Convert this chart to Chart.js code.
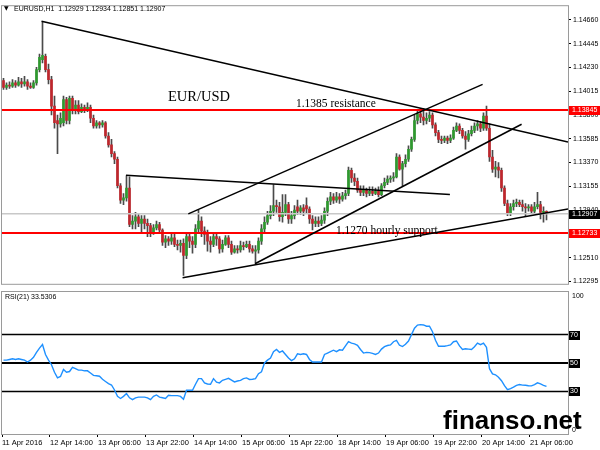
<!DOCTYPE html>
<html>
<head>
<meta charset="utf-8">
<script src="https://cdn.jsdelivr.net/npm/chart.js@4.4.0/dist/chart.umd.min.js"></script>
<style>
  html, body { margin: 0; padding: 0; background: #fff; }
  #wrap { position: relative; width: 600px; height: 450px; overflow: hidden; }
  #price { position: absolute; left: 0; top: 0; }
  #rsi { position: absolute; left: 0; top: 290px; }
  #mark { position: absolute; left: 443px; top: 407px; font: bold 26px "Liberation Sans", Arial, sans-serif; line-height: 26px; color: #000; }
</style>
</head>
<body>
<div id="wrap">
  <canvas id="price" width="600" height="290"></canvas>
  <canvas id="rsi" width="600" height="160"></canvas>
  <div id="mark">finanso.net</div>
</div>
<script>
// EURUSD H1, bars from 11 Apr 22:00 to 21 Apr 11:00
const opens = [
  1.1411,1.1405,1.1407,1.1406,1.1409,1.1407,1.1410,1.1408,1.1410,1.1406,
  1.1405,1.1409,1.1421,1.1430,1.1433,1.1421,1.1412,1.1388,1.1375,1.1372,
  1.1373,1.1394,1.1375,1.1395,1.1384,1.1389,1.1383,1.1387,1.1385,1.1387,
  1.1377,1.1370,1.1373,1.1371,1.1373,1.1361,1.1353,1.1345,1.1340,1.1316,
  1.1303,1.1305,1.1314,1.1281,1.1284,1.1288,1.1282,1.1286,1.1282,1.1280,
  1.1274,1.1278,1.1281,1.1276,1.1265,1.1268,1.1266,1.1269,1.1263,1.1262,
  1.1264,1.1253,1.1270,1.1266,1.1263,1.1277,1.1284,1.1275,1.1272,1.1266,
  1.1263,1.1270,1.1268,1.1259,1.1263,1.1269,1.1263,1.1256,1.1259,1.1258,
  1.1262,1.1261,1.1263,1.1259,1.1257,1.1258,1.1266,1.1277,1.1283,1.1289,
  1.1293,1.1298,1.1297,1.1288,1.1292,1.1299,1.1286,1.1289,1.1297,1.1293,
  1.1296,1.1298,1.1295,1.1286,1.1282,1.1284,1.1282,1.1285,1.1293,1.1302,
  1.1306,1.1303,1.1306,1.1304,1.1307,1.1309,1.1330,1.1323,1.1320,1.1312,
  1.1310,1.1312,1.1309,1.1311,1.1309,1.1311,1.1308,1.1316,1.1319,1.1322,
  1.1323,1.1324,1.1342,1.1331,1.1336,1.1340,1.1349,1.1358,1.1375,1.1381,
  1.1378,1.1375,1.1377,1.1380,1.1371,1.1364,1.1358,1.1357,1.1359,1.1357,
  1.1359,1.1366,1.1370,1.1366,1.1361,1.1358,1.1363,1.1366,1.1370,1.1372,
  1.1368,1.1379,1.1368,1.1342,1.1331,1.1333,1.1330,1.1314,1.1300,1.1291,
  1.1297,1.1300,1.1301,1.1299,1.1297,1.1296,1.1297,1.1293,1.1297,1.1299,
  1.1292,1.12929
];
const highs = [
  1.1413,1.1409,1.1410,1.1412,1.1411,1.1414,1.1413,1.1415,1.1412,1.1409,
  1.1411,1.1423,1.1435,1.1464,1.1435,1.1426,1.1415,1.1397,1.1380,1.1382,
  1.1397,1.1396,1.1397,1.1397,1.1393,1.1393,1.1390,1.1389,1.1391,1.1389,
  1.1380,1.1375,1.1374,1.1375,1.1374,1.1364,1.1358,1.1347,1.1342,1.1318,
  1.1309,1.1325,1.1324,1.1289,1.1292,1.1290,1.1289,1.1289,1.1286,1.1282,
  1.1281,1.1284,1.1283,1.1277,1.1271,1.1270,1.1272,1.1272,1.1267,1.1267,
  1.1268,1.1274,1.1274,1.1270,1.1281,1.1294,1.1288,1.1279,1.1276,1.1270,
  1.1274,1.1273,1.1270,1.1267,1.1271,1.1271,1.1266,1.1262,1.1262,1.1266,
  1.1265,1.1266,1.1266,1.1262,1.1262,1.1269,1.1281,1.1288,1.1293,1.1298,
  1.1317,1.1303,1.1301,1.1308,1.1308,1.1301,1.1293,1.1298,1.1303,1.1298,
  1.1299,1.1305,1.1297,1.1289,1.1288,1.1288,1.1289,1.1296,1.1305,1.1310,
  1.1309,1.1310,1.1309,1.1310,1.1312,1.1333,1.1332,1.1327,1.1323,1.1316,
  1.1316,1.1314,1.1315,1.1315,1.1314,1.1315,1.1318,1.1323,1.1325,1.1325,
  1.1328,1.1345,1.1344,1.1338,1.1344,1.1352,1.1360,1.1380,1.1384,1.1386,
  1.1386,1.1382,1.1383,1.1382,1.1373,1.1366,1.1361,1.1361,1.1361,1.1362,
  1.1369,1.1373,1.1372,1.1368,1.1365,1.1366,1.1370,1.1373,1.1375,1.1374,
  1.1382,1.1388,1.1372,1.1348,1.1338,1.1337,1.1332,1.1316,1.1303,1.1300,
  1.1303,1.1304,1.1303,1.1303,1.1300,1.1299,1.1299,1.1301,1.1310,1.1302,
  1.1297,1.12934
];
const lows = [
  1.1403,1.1403,1.1404,1.1405,1.1405,1.1406,1.1405,1.1406,1.1403,1.1404,
  1.1404,1.1407,1.1419,1.1427,1.1419,1.1408,1.1380,1.1368,1.1345,1.1369,
  1.1370,1.1372,1.1372,1.1381,1.1381,1.1381,1.1382,1.1382,1.1383,1.1373,
  1.1368,1.1368,1.1368,1.1369,1.1359,1.1351,1.1342,1.1336,1.1314,1.1300,
  1.1299,1.1302,1.1279,1.1277,1.1277,1.1279,1.1273,1.1277,1.1270,1.1270,
  1.1272,1.1276,1.1274,1.1262,1.1260,1.1262,1.1263,1.1261,1.1258,1.1256,
  1.1235,1.1250,1.1260,1.1255,1.1260,1.1274,1.1270,1.1263,1.1257,1.1256,
  1.1261,1.1262,1.1255,1.1256,1.1262,1.1260,1.1254,1.1255,1.1255,1.1256,
  1.1258,1.1260,1.1256,1.1255,1.1246,1.1255,1.1263,1.1274,1.1281,1.1286,
  1.1289,1.1292,1.1284,1.1283,1.1289,1.1282,1.1282,1.1286,1.1290,1.1290,
  1.1289,1.1291,1.1282,1.1276,1.1279,1.1279,1.1280,1.1282,1.1289,1.1299,
  1.1300,1.1301,1.1300,1.1302,1.1304,1.1307,1.1319,1.1316,1.1310,1.1307,
  1.1307,1.1306,1.1307,1.1307,1.1308,1.1306,1.1307,1.1314,1.1317,1.1319,
  1.1320,1.1323,1.1330,1.1316,1.1333,1.1338,1.1347,1.1356,1.1372,1.1373,
  1.1371,1.1372,1.1374,1.1368,1.1361,1.1355,1.1354,1.1355,1.1354,1.1355,
  1.1358,1.1365,1.1363,1.1359,1.1349,1.1356,1.1361,1.1364,1.1366,1.1365,
  1.1366,1.1366,1.1338,1.1328,1.1324,1.1323,1.1311,1.1298,1.1289,1.1289,
  1.1294,1.1297,1.1297,1.1293,1.1288,1.1293,1.1291,1.1291,1.1295,1.1286,
  1.1283,1.12851
];
const closes = [
  1.1405,1.1407,1.1406,1.1409,1.1407,1.1410,1.1408,1.1410,1.1406,1.1405,
  1.1409,1.1421,1.1432,1.1434,1.1421,1.1412,1.1388,1.1373,1.1372,1.1377,
  1.1394,1.1375,1.1395,1.1384,1.1389,1.1383,1.1387,1.1385,1.1387,1.1377,
  1.1370,1.1373,1.1371,1.1373,1.1361,1.1353,1.1345,1.1340,1.1316,1.1303,
  1.1305,1.1314,1.1281,1.1284,1.1288,1.1282,1.1286,1.1282,1.1280,1.1274,
  1.1278,1.1281,1.1276,1.1265,1.1268,1.1266,1.1269,1.1263,1.1262,1.1264,
  1.1253,1.1270,1.1266,1.1263,1.1277,1.1284,1.1275,1.1272,1.1266,1.1263,
  1.1270,1.1268,1.1259,1.1263,1.1269,1.1263,1.1256,1.1259,1.1258,1.1262,
  1.1261,1.1263,1.1259,1.1257,1.1258,1.1266,1.1277,1.1283,1.1289,1.1293,
  1.1298,1.1297,1.1288,1.1292,1.1299,1.1286,1.1289,1.1294,1.1293,1.1296,
  1.1293,1.1295,1.1286,1.1282,1.1284,1.1282,1.1285,1.1293,1.1302,1.1306,
  1.1303,1.1306,1.1304,1.1307,1.1309,1.1330,1.1323,1.1320,1.1312,1.1310,
  1.1312,1.1309,1.1311,1.1309,1.1311,1.1308,1.1316,1.1319,1.1322,1.1323,
  1.1324,1.1342,1.1331,1.1336,1.1340,1.1349,1.1358,1.1375,1.1381,1.1378,
  1.1375,1.1377,1.1380,1.1371,1.1364,1.1358,1.1357,1.1359,1.1357,1.1359,
  1.1366,1.1370,1.1366,1.1361,1.1358,1.1363,1.1366,1.1370,1.1372,1.1368,
  1.1379,1.1368,1.1342,1.1331,1.1333,1.1330,1.1314,1.1300,1.1291,1.1297,
  1.1300,1.1301,1.1299,1.1297,1.1296,1.1297,1.1293,1.1297,1.1299,1.1292,
  1.1293,1.12907
];
const rsi = [
  52,52,52.5,53,52.5,53,52.5,52,50.7,52,
  54,57.5,60.5,63,56,52,48.8,43.5,39.5,40.5,
  45.5,43.5,44,47,46,45,45,44.5,44.5,43,
  41.3,41,40.7,38.5,37,35.5,34.5,31,26.5,25,
  26.5,28.5,25.5,24.2,25.5,26,26,26,25.5,24.2,
  26.5,27.5,26,25.5,25,27.3,27,27,27,26.5,
  24.5,30.8,30.8,30.8,35,39,39,36,35.2,35,
  39,36.5,36,37.8,38.5,39.2,38,36.7,37.3,37.8,
  39,39.5,38.4,38.6,39,42.5,43.8,50,52,53.5,
  58,59.5,57.5,58.5,56,53.5,51.7,53,56.5,56,
  56.5,56,52.5,50.7,50.7,50.7,50.7,56,57,58,
  59,58,59.3,59,62,65,64,63.5,62.5,59.5,
  57,57.5,57.3,56.8,56,57,59.8,61.5,62.3,62.7,
  65,66,62.5,61.6,63.2,65.5,70,74.5,76.7,77,
  76.8,75.9,75.9,72,66,61.8,61.8,61.8,62.2,62.7,
  65,65.5,62,59.5,60,59.8,59.5,61.5,64,62.9,
  64,61,46,42.3,41.7,40,37.5,34,31.2,32,
  33,34.3,34.8,34.4,34.3,34,33.9,34.8,36,35.3,
  34.3,33.5306
];

const xLabels = ["11 Apr 2016", "12 Apr 14:00", "13 Apr 06:00", "13 Apr 22:00", "14 Apr 14:00", "15 Apr 06:00",
  "15 Apr 22:00", "18 Apr 14:00", "19 Apr 06:00", "19 Apr 22:00", "20 Apr 14:00", "21 Apr 06:00"];
const xLabelBars = [0, 16, 32, 48, 64, 80, 96, 112, 128, 144, 160, 176];
const yTicks = [1.12295, 1.12510, 1.12725, 1.12940, 1.13155, 1.13370, 1.13585, 1.13800, 1.14015, 1.14230, 1.14445, 1.14660];

// trend lines: [startBar, startPrice, endBar, endPrice]
const trendLines = [
  [12.67, 1.14647, 188.17, 1.13555],
  [61.6, 1.12906, 159.7, 1.14077],
  [83.83, 1.12455, 172.7, 1.13716],
  [40.83, 1.13256, 148.8, 1.13081],
  [59.7, 1.12329, 188.17, 1.12950]
];
const redLevels = [1.13845, 1.12733];
const lastPrice = 1.12907;
const rsiLevels = [70, 50, 30];

const X_MIN = -0.5, X_MAX = 188.17;
const SMALL = '7px "Liberation Sans", Arial, sans-serif';

function flatLine(v, color, width) {
  return {
    type: 'line',
    data: [{ x: X_MIN, y: v }, { x: X_MAX, y: v }],
    borderColor: color, borderWidth: width, pointRadius: 0, order: 0
  };
}

const priceDecor = {
  id: 'priceDecor',
  afterDraw(chart) {
    const { ctx, chartArea: a, scales: { x, y } } = chart;
    ctx.save();
    ctx.strokeStyle = '#9a9a9a';
    ctx.lineWidth = 1;
    ctx.strokeRect(a.left - 0.5, a.top - 0.5, a.right - a.left + 1, a.bottom - a.top + 1);

    // chart notes
    ctx.fillStyle = '#000';
    ctx.textBaseline = 'alphabetic';
    ctx.font = '14.5px "Liberation Serif", serif';
    ctx.fillText('EUR/USD', x.getPixelForValue(54.8), y.getPixelForValue(1.1393));
    ctx.font = '11.5px "Liberation Serif", serif';
    ctx.fillText('1.1385 resistance', x.getPixelForValue(97.5), y.getPixelForValue(1.13874));
    ctx.fillText('1.1270 hourly support', x.getPixelForValue(110.8), y.getPixelForValue(1.12724));

    // price tags on the axis
    ctx.font = SMALL;
    ctx.textBaseline = 'middle';
    const tags = redLevels.map(v => [v, '#ff0000']).concat([[lastPrice, '#000']]);
    tags.forEach(([v, bg]) => {
      const py = Math.round(y.getPixelForValue(v));
      ctx.fillStyle = bg;
      ctx.fillRect(a.right + 1, py - 4, 32, 9);
      ctx.fillStyle = '#fff';
      ctx.fillText(v.toFixed(5), a.right + 4, py + 0.5);
    });

    // header
    ctx.fillStyle = '#000';
    ctx.textBaseline = 'alphabetic';
    ctx.font = '6px "DejaVu Sans", sans-serif';
    ctx.fillText('\u25BC', 4, 10);
    ctx.font = SMALL;
    ctx.fillText('EURUSD,H1  ' + [opens[181], highs[181], lows[181], closes[181]].map(v => v.toFixed(5)).join(' '), 14, 10.5);
    ctx.restore();
  }
};

const rsiDecor = {
  id: 'rsiDecor',
  afterDraw(chart) {
    const { ctx, chartArea: a, scales: { y } } = chart;
    ctx.save();
    ctx.strokeStyle = '#9a9a9a';
    ctx.lineWidth = 1;
    ctx.strokeRect(a.left - 0.5, a.top - 0.5, a.right - a.left + 1, a.bottom - a.top + 1);
    ctx.font = SMALL;
    ctx.fillStyle = '#000';
    ctx.textBaseline = 'middle';
    ctx.fillText('RSI(21) ' + rsi[rsi.length - 1].toFixed(4), 5, a.top + 5);
    ctx.fillText('100', a.right + 4, y.getPixelForValue(100) + 4);
    ctx.fillText('0', a.right + 4, y.getPixelForValue(0) - 4);
    rsiLevels.forEach(v => {
      const py = Math.round(y.getPixelForValue(v));
      ctx.fillStyle = '#000';
      ctx.fillRect(a.right + 1, py - 4, 11, 9);
      ctx.fillStyle = '#fff';
      ctx.fillText(String(v), a.right + 2, py + 0.5);
    });
    ctx.restore();
  }
};

new Chart(document.getElementById('price'), {
  type: 'bar',
  data: {
    datasets: [
      ...trendLines.map(t => ({
        type: 'line',
        data: [{ x: t[0], y: t[1] }, { x: t[2], y: t[3] }],
        borderColor: '#000', borderWidth: 1.5, pointRadius: 0, order: 0
      })),
      ...redLevels.map(v => flatLine(v, '#ff0000', 2)),
      flatLine(lastPrice, '#c8c8c8', 1.5),
      {
        data: opens.map((o, i) => ({ x: i, y: [o, closes[i]] })),
        backgroundColor: opens.map((o, i) => closes[i] >= o ? '#2e9a2e' : '#c0262c'),
        barThickness: 2, grouped: false, minBarLength: 1, order: 1
      },
      {
        data: lows.map((l, i) => ({ x: i, y: [l, highs[i]] })),
        backgroundColor: '#4a4a4a',
        barThickness: 1, grouped: false, order: 2
      }
    ]
  },
  options: {
    responsive: false,
    animation: false,
    events: [],
    layout: { padding: { left: 2, top: 2, right: 0, bottom: 1 } },
    plugins: { legend: { display: false }, tooltip: { enabled: false } },
    scales: {
      x: { type: 'linear', min: X_MIN, max: X_MAX, offset: false, display: false },
      y: {
        position: 'right',
        min: 1.12274, max: 1.14783,
        afterBuildTicks: s => { s.ticks = yTicks.map(v => ({ value: v })); },
        afterFit: s => { s.width = 32; },
        ticks: { font: { family: 'Liberation Sans', size: 7 }, color: '#000', padding: 2, callback: v => v.toFixed(5) },
        grid: { drawOnChartArea: false, tickLength: 3, color: '#000' },
        border: { color: '#808080' }
      }
    }
  },
  plugins: [priceDecor]
});

new Chart(document.getElementById('rsi'), {
  type: 'line',
  data: {
    datasets: [
      {
        data: rsi.map((v, i) => ({ x: i, y: v })),
        borderColor: '#1e90ff', borderWidth: 1.4, pointRadius: 0, order: 0
      },
      ...rsiLevels.map(v => ({ ...flatLine(v, '#000', v === 50 ? 2 : 1.5), order: 1 }))
    ]
  },
  options: {
    responsive: false,
    animation: false,
    events: [],
    layout: { padding: { left: 2, top: 2, right: 0, bottom: 0 } },
    plugins: { legend: { display: false }, tooltip: { enabled: false } },
    scales: {
      x: {
        type: 'linear', min: X_MIN, max: X_MAX, offset: false,
        afterBuildTicks: s => { s.ticks = xLabelBars.map(b => ({ value: b - 0.5 })); },
        afterFit: s => { s.height = 16; },
        ticks: {
          align: 'start', padding: 1, maxRotation: 0, autoSkip: false,
          font: { family: 'Liberation Sans', size: 7.5 }, color: '#000',
          callback: (v, idx) => xLabels[idx]
        },
        grid: { drawOnChartArea: false, tickLength: 3, color: '#000' },
        border: { color: '#808080' }
      },
      y: {
        position: 'right', min: 0, max: 100,
        afterFit: s => { s.width = 32; },
        ticks: { display: false },
        grid: { display: false },
        border: { color: '#808080' }
      }
    }
  },
  plugins: [rsiDecor]
});
</script>
</body>
</html>
